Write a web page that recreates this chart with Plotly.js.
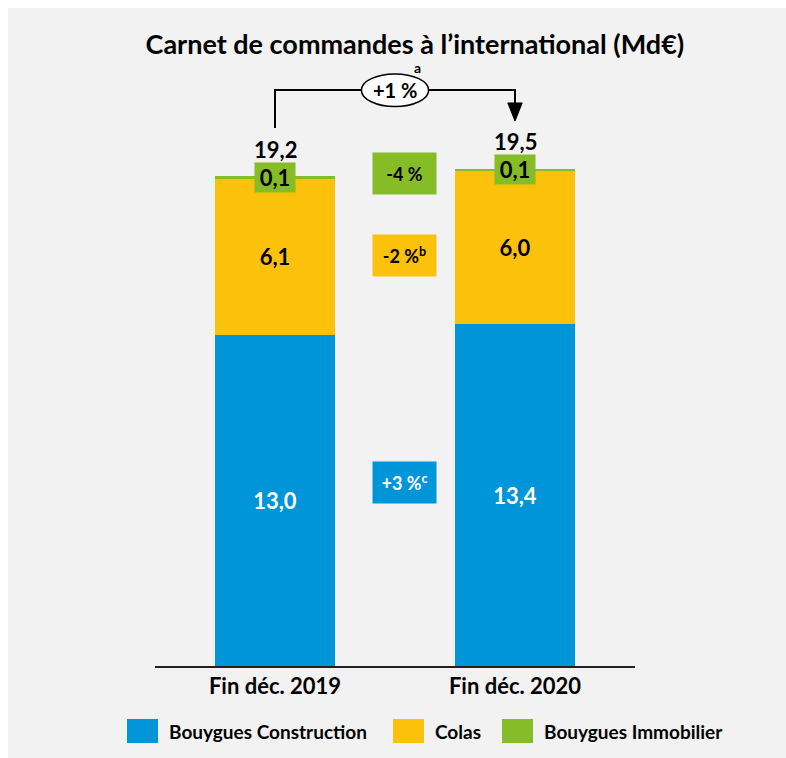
<!DOCTYPE html>
<html>
<head>
<meta charset="utf-8">
<script src="https://cdn.plot.ly/plotly-3.0.1.min.js"></script>
<style>
  body { margin: 0; background: #fff; }
  #plot { position: absolute; left: 8px; top: 8px; width: 778px; height: 750px; }
</style>
</head>
<body>
<div id="plot"></div>
<script>
var years = ['Fin déc. 2019', 'Fin déc. 2020'];
var construction = [13.0, 13.4];
var colas = [6.1, 6.0];
var immobilier = [0.1, 0.1];
var totals = [19.2, 19.5];
var seriesNames = ['Bouygues Construction', 'Colas', 'Bouygues Immobilier'];
var colors = ['#0095d9', '#fcc10a', '#86bc25'];
var changes = ['-4 %', '-2 %<sup>b</sup>', '+3 %<sup>c</sup>'];
var totalChange = '+1 %';

var font = 'Lato, "Open Sans", sans-serif';
function fmt(v) { return v.toFixed(1).replace('.', ','); }

var trace1 = {
  x: years, y: construction, name: seriesNames[0], type: 'bar',
  marker: {color: colors[0]},
  text: construction.map(fmt), textposition: 'inside', insidetextanchor: 'middle',
  textfont: {color: '#fff', size: 22, family: font, weight: 'bold'},
  hoverinfo: 'none'
};
var trace2 = {
  x: years, y: colas, name: seriesNames[1], type: 'bar',
  marker: {color: colors[1]},
  text: colas.map(fmt), textposition: 'inside', insidetextanchor: 'middle',
  textfont: {color: '#000', size: 22, family: font, weight: 'bold'},
  hoverinfo: 'none'
};
var trace3 = {
  x: years, y: immobilier, name: seriesNames[2], type: 'bar',
  marker: {color: colors[2]},
  hoverinfo: 'none'
};

// plot area in pixels (inside the div) for paper coordinates
var L = 147, W = 480, T = 50, H = 608;
function px(x) { return (x - L) / W; }
function py(y) { return 1 - (y - T) / H; }

var annotations = [];
var shapes = [];

years.forEach(function(c, i) {
  annotations.push({
    x: i, y: totals[i], xref: 'x', yref: 'y', text: fmt(totals[i]),
    showarrow: false, yshift: 27,
    font: {size: 22, family: font, color: '#000', weight: 'bold'}
  });
  annotations.push({
    x: i, y: totals[i], xref: 'x', yref: 'y', text: fmt(immobilier[i]),
    showarrow: false, yshift: -1, width: 38, height: 27,
    bgcolor: colors[2],
    font: {size: 22, family: font, color: '#000', weight: 'bold'}
  });
});

var changeY = [19.3, 16.1, 7.2];
changes.forEach(function(t, i) {
  annotations.push({
    x: 0.54, y: changeY[i], xref: 'x', yref: 'y', text: t,
    showarrow: false, width: 61, height: 39,
    bgcolor: colors[2 - i],
    font: {size: 18, family: font, color: i === 2 ? '#fff' : '#000', weight: 'bold'}
  });
});

// connector between totals, with arrow head
shapes.push({type: 'path', xref: 'x', yref: 'y',
  path: 'M 0,21.1 L 0,22.59 L 1,22.59 L 1,22.0',
  line: {color: '#000', width: 2}});
shapes.push({type: 'path', xref: 'x', yref: 'y',
  path: 'M 0.97,22.08 L 1.03,22.08 L 1,21.37 Z',
  fillcolor: '#000', line: {color: '#000', width: 1}});
shapes.push({type: 'circle', xref: 'x', yref: 'y',
  x0: 0.5 - 0.14, x1: 0.5 + 0.14, y0: 21.94, y1: 23.22,
  fillcolor: '#fff', line: {color: '#000', width: 1.5}});
annotations.push({
  x: 0.5, y: 22.59, xref: 'x', yref: 'y', text: totalChange, showarrow: false,
  font: {size: 20, family: font, color: '#000', weight: 'bold'}
});
annotations.push({
  x: 0.592, y: 23.49, xref: 'x', yref: 'y', text: 'a', showarrow: false,
  font: {size: 14, family: font, color: '#000', weight: 'bold'}
});

// legend
var legX = [119, 385, 494];
seriesNames.forEach(function(n, i) {
  shapes.push({type: 'rect', xref: 'paper', yref: 'paper',
    x0: px(legX[i]), x1: px(legX[i] + 31), y0: py(711), y1: py(735),
    fillcolor: colors[i], line: {width: 0}});
  annotations.push({
    x: px(legX[i] + 40), y: py(723), xref: 'paper', yref: 'paper',
    xanchor: 'left', yanchor: 'middle', text: n, showarrow: false,
    font: {size: 19, family: font, color: '#000', weight: 'bold'}
  });
});

var layout = {
  title: {
    text: 'Carnet de commandes à l’international (Md€)',
    x: 0.523, xanchor: 'center', y: 1 - 37 / 750, yanchor: 'middle',
    font: {size: 27, family: font, color: '#000', weight: 'bold'}
  },
  barmode: 'stack',
  bargap: 0.5,
  showlegend: false,
  separators: ', ',
  paper_bgcolor: '#f2f2f2',
  plot_bgcolor: '#f2f2f2',
  margin: {l: L, r: 778 - L - W, t: T, b: 750 - T - H},
  xaxis: {
    showline: true, linecolor: '#222', linewidth: 2, ticks: '',
    tickfont: {size: 22, family: font, color: '#000', weight: 'bold'},
    fixedrange: true
  },
  yaxis: {range: [0, H / 25.5], visible: false, showgrid: false, zeroline: false, fixedrange: true},
  annotations: annotations,
  shapes: shapes
};

Plotly.newPlot('plot', [trace1, trace2, trace3], layout, {displayModeBar: false, staticPlot: true});
</script>
</body>
</html>
